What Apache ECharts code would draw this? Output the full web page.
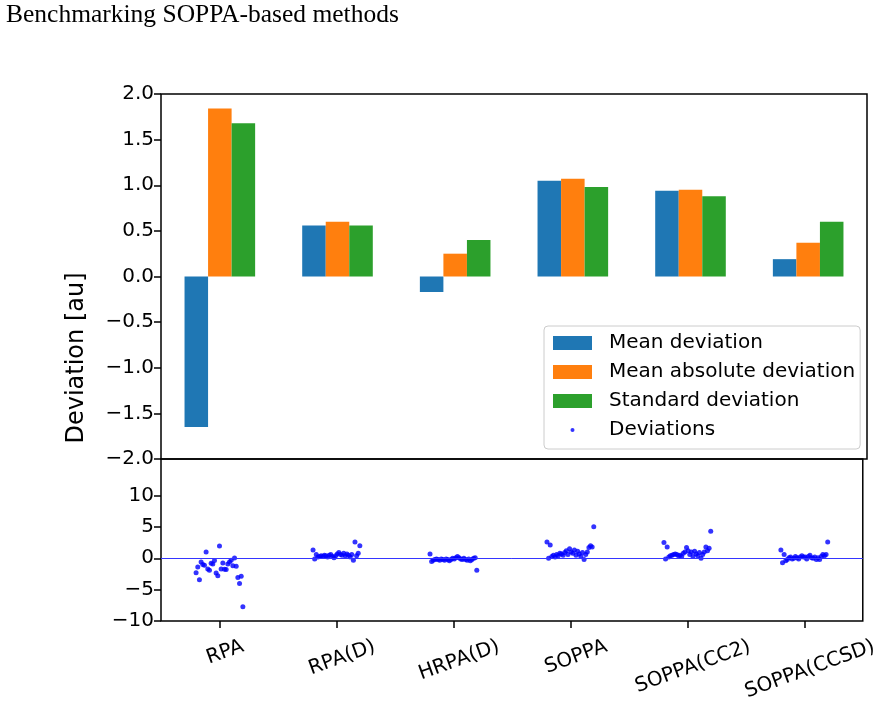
<!DOCTYPE html>
<html>
<head>
<meta charset="utf-8">
<script src="https://cdn.jsdelivr.net/npm/echarts@6/dist/echarts.min.js"></script>
<style>
  html, body { margin: 0; padding: 0; background: #fff; }
  #chart { width: 880px; height: 703px; }
</style>
</head>
<body>
<div id="chart"></div>
<script>
// methods on the x axis
const categories = ['RPA', 'RPA(D)', 'HRPA(D)', 'SOPPA', 'SOPPA(CC2)', 'SOPPA(CCSD)']

// summary statistics (top panel)
const meanDeviation = [-1.65, 0.56, -0.17, 1.05, 0.94, 0.19]
const meanAbsDeviation = [1.84, 0.60, 0.25, 1.07, 0.95, 0.37]
const stdDeviation = [1.68, 0.56, 0.40, 0.98, 0.88, 0.60]

// individual deviations per method (bottom panel), left to right
const devRPA = [-2.3, -1.4, -3.4, -0.6, -1.0, -1.1, 1.0, -1.7, -1.9, -0.8, -0.9, -0.35, -2.35, -2.8, 1.95,
  -1.7, -0.75, -1.75, -1.8, -0.9, -0.6, -0.3, -1.2, 0.05, -1.25, -3.05, -4.0, -2.85, -7.7]
const devRPAD = [1.3, -0.1, 0.6, 0.2, 0.3, 0.4, 0.3, 0.5, 0.4, 0.2, 0.5, 0.6, 0.3, 0.1, 0.4,
  0.7, 0.9, 0.6, 0.5, 0.8, 0.4, 0.7, 0.5, 0.2, 0.6, -0.3, 2.6, 0.4, 0.8, 2.0]
const devHRPAD = [0.7, -0.5, -0.3, -0.2, -0.1, -0.2, -0.3, -0.1, -0.2, -0.3, -0.1, -0.2, -0.4, -0.2, 0.0,
  -0.1, 0.1, 0.3, 0.1, -0.1, -0.2, 0.0, -0.2, -0.3, -0.1, -0.4, -0.2, 0.0, 0.1, -1.9]
const devSOPPA = [2.6, 0.0, 2.1, 0.3, 0.5, 0.2, 0.6, 0.4, 0.8, 0.7, 0.5, 0.9, 1.2, 0.6, 1.5,
  1.0, 0.8, 1.3, 0.5, 1.1, 0.7, 0.3, 0.9, -0.2, 0.6, 1.0, 1.7, 2.0, 1.8, 5.0]
const devCC2 = [2.5, -0.1, 1.8, 0.2, 0.4, 0.5, 0.6, 0.7, 0.6, 0.4, 0.5, 0.3, 0.8, 1.0, 1.7,
  1.2, 0.6, 1.0, 0.3, 1.1, 0.7, 0.4, 0.9, 0.0, 0.6, 1.0, 1.8, 1.2, 1.6, 4.3]
const devCCSD = [1.3, -0.7, 0.6, -0.4, -0.2, 0.1, 0.2, -0.1, 0.0, 0.3, 0.1, -0.1, 0.2, 0.4, 0.2,
  0.2, -0.1, 0.3, 0.5, 0.1, 0.0, 0.2, -0.2, 0.1, -0.2, 0.3, 0.6, 0.4, 0.6, 2.6]
const deviations = [devRPA, devRPAD, devHRPAD, devSOPPA, devCC2, devCCSD]

// tick labels
const topTicks = [-2, -1.5, -1, -0.5, 0, 0.5, 1, 1.5, 2]
const bottomTicks = [-10, -5, 0, 5, 10]

const FONT = '"DejaVu Sans", sans-serif'
const minus = v => String(v).replace('-', '\u2212')

// spread each method's points evenly around its category
const scatterData = []
deviations.forEach((vals, i) => {
  vals.forEach((v, k) => {
    scatterData.push([i - 0.2 + 0.4 * k / (vals.length - 1), v])
  })
})

// rotated labels are centred under the tick like matplotlib's
const labelSize = 20
const rot = 20 * Math.PI / 180
const ctx = document.createElement('canvas').getContext('2d')
ctx.font = labelSize + 'px "DejaVu Sans"'
const rich = {}
categories.forEach((c, i) => {
  const w = ctx.measureText(c).width
  const s = (w * Math.sin(rot) + 23 * Math.cos(rot)) / 2 + 2
  rich['c' + i] = {
    fontSize: labelSize,
    fontFamily: FONT,
    color: '#000',
    padding: [2 * Math.cos(rot) * s, 2 * Math.sin(rot) * s, 0, 12]
  }
})

const chart = echarts.init(document.getElementById('chart'))
const frame = { show: true, borderColor: '#000', borderWidth: 1.5, backgroundColor: 'transparent' }
const tick = { show: true, length: 7, lineStyle: { color: '#000', width: 1.5 } }

chart.setOption({
  animation: false,
  backgroundColor: '#fff',
  title: {
    text: 'Benchmarking SOPPA-based methods',
    left: 6,
    top: 2,
    padding: 0,
    textStyle: { fontFamily: '"Liberation Serif", serif', fontSize: 25.5, fontWeight: 'normal', color: '#000' }
  },
  legend: {
    orient: 'vertical',
    left: 544,
    top: 326,
    padding: [7, 5, 9, 9],
    itemWidth: 39,
    itemHeight: 14,
    itemGap: 9,
    backgroundColor: 'rgba(255,255,255,0.8)',
    borderColor: '#cccccc',
    borderWidth: 1,
    borderRadius: 4,
    textStyle: { fontSize: 20, fontFamily: FONT, color: '#000', padding: [0, 0, 0, 12] },
    data: [
      { name: 'Mean deviation', icon: 'rect' },
      { name: 'Mean absolute deviation', icon: 'rect' },
      { name: 'Standard deviation', icon: 'rect' },
      { name: 'Deviations', icon: 'path://M0,0M39,14M17.5,7a2,2 0 1,0 4,0a2,2 0 1,0 -4,0z' }
    ]
  },
  graphic: [{
    type: 'text',
    x: 77,
    y: 358,
    rotation: Math.PI / 2,
    style: { text: 'Deviation [au]', font: '24px "DejaVu Sans"', fill: '#000', align: 'center', verticalAlign: 'middle' }
  }],
  grid: [
    Object.assign({ left: 161, right: 13, top: 94, height: 365 }, frame),
    Object.assign({ left: 161, right: 13, top: 459, height: 164 }, frame)
  ],
  xAxis: [
    {
      type: 'category', gridIndex: 0, data: categories,
      axisLine: { show: false, onZero: false }, axisTick: { show: false }, axisLabel: { show: false }
    },
    {
      type: 'category', gridIndex: 1, data: categories, position: 'bottom',
      axisLine: { show: false, onZero: false },
      axisTick: Object.assign({ alignWithLabel: true, interval: 0 }, tick),
      axisLabel: {
        interval: 0,
        rotate: 20,
        align: 'center',
        verticalAlign: 'middle',
        margin: 14,
        formatter: (v, i) => '{c' + i + '|' + v + '}',
        rich: rich
      }
    },
    { type: 'value', gridIndex: 1, min: -0.5, max: 5.5, show: false }
  ],
  yAxis: [
    {
      type: 'value', gridIndex: 0, min: -2, max: 2, interval: 0.5, position: 'left',
      axisLine: { show: false, onZero: false }, splitLine: { show: false },
      axisTick: Object.assign({ customValues: topTicks }, tick),
      axisLabel: {
        customValues: topTicks,
        margin: 7, fontSize: 20, fontFamily: FONT, color: '#000',
        formatter: v => minus(v.toFixed(1))
      }
    },
    {
      type: 'value', gridIndex: 1, min: -10, max: 15.8, interval: 5, position: 'left',
      axisLine: { show: false, onZero: false }, splitLine: { show: false },
      axisTick: Object.assign({ customValues: bottomTicks }, tick),
      axisLabel: {
        customValues: bottomTicks,
        margin: 7, fontSize: 20, fontFamily: FONT, color: '#000',
        formatter: v => minus(v)
      }
    }
  ],
  series: [
    {
      name: 'Mean deviation', type: 'bar', xAxisIndex: 0, yAxisIndex: 0,
      barWidth: '20%', barGap: '0%', itemStyle: { color: '#1f77b4' }, data: meanDeviation
    },
    {
      name: 'Mean absolute deviation', type: 'bar', xAxisIndex: 0, yAxisIndex: 0,
      barWidth: '20%', barGap: '0%', itemStyle: { color: '#ff7f0e' }, data: meanAbsDeviation
    },
    {
      name: 'Standard deviation', type: 'bar', xAxisIndex: 0, yAxisIndex: 0,
      barWidth: '20%', barGap: '0%', itemStyle: { color: '#2ca02c' }, data: stdDeviation
    },
    {
      name: 'Deviations', type: 'scatter', xAxisIndex: 2, yAxisIndex: 1,
      symbolSize: 5, itemStyle: { color: '#0000ff' },
      data: scatterData,
      markLine: {
        silent: true,
        symbol: ['none', 'none'],
        label: { show: false },
        lineStyle: { color: '#3535ff', width: 1, type: 'solid' },
        data: [{ yAxis: 0 }]
      }
    }
  ]
})
</script>
</body>
</html>
